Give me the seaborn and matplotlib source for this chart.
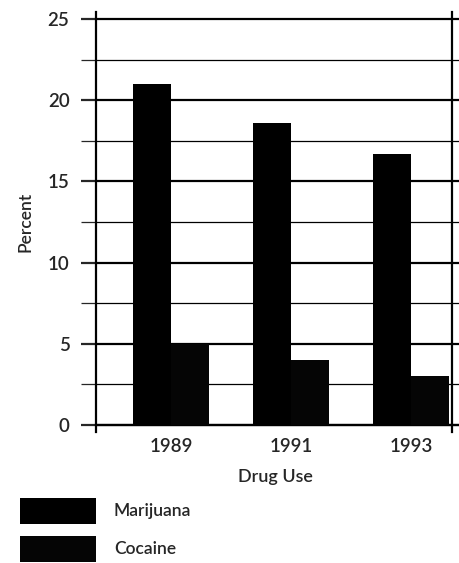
import seaborn as sns
import pandas as pd
import matplotlib.pyplot as plt
from matplotlib.ticker import MultipleLocator

years = ["1989", "1991", "1993"]
marijuana = [21.0, 18.6, 16.7]
cocaine = [5.0, 4.0, 3.0]
drugs = ["Marijuana", "Cocaine"]
yticks = [0, 5, 10, 15, 20, 25]

df = pd.DataFrame({
    "year": years * 2,
    "pct": marijuana + cocaine,
    "drug": [drugs[0]] * len(years) + [drugs[1]] * len(years),
})

sns.set_style("white")
plt.rcParams["font.family"] = ["Lato", "DejaVu Sans"]
plt.rcParams["font.weight"] = "semibold"
plt.rcParams["axes.labelweight"] = "semibold"

fig = plt.figure(figsize=(4.6, 5.63), dpi=100)
ax = fig.add_axes([96 / 460, 131 / 563, 364 / 460, 420 / 563])

sns.barplot(data=df, x="year", y="pct", hue="drug", palette=["#000000", "#050505"],
            width=0.64, gap=0, saturation=1, linewidth=0, ax=ax, zorder=3)

ax.set_xlim(-0.625, 2.408)
ax.set_ylim(-0.43, 25.43)
ax.set_yticks(yticks)
ax.yaxis.set_minor_locator(MultipleLocator(2.5))
ax.set_axisbelow(True)
ax.grid(axis="y", which="major", color="black", linewidth=1.6)
ax.grid(axis="y", which="minor", color="black", linewidth=0.9)
ax.grid(axis="x", visible=False)

ax.tick_params(axis="y", which="major", length=11, width=1.6, labelsize=13.5, pad=8, left=True)
ax.tick_params(axis="y", which="minor", length=11, width=0.9, left=True)
ax.tick_params(axis="x", length=0, labelsize=13.5, pad=9)

for side in ["left", "right", "bottom"]:
    ax.spines[side].set_color("black")
    ax.spines[side].set_linewidth(1.6)
ax.spines["top"].set_visible(False)
ax.spines["bottom"].set_position(("data", 0))
ax.spines["right"].set_position(("axes", 356 / 364))

ax.set_ylabel("Percent", fontsize=12.5, fontweight="semibold")
ax.set_xlabel("Drug Use", fontsize=13, fontweight="semibold")
ax.yaxis.set_label_coords(-0.173, 0.5)
ax.xaxis.set_label_coords(0.492, -0.088)

handles, labels = ax.get_legend_handles_labels()
ax.get_legend().remove()
fig.legend(handles, labels, loc="upper left", bbox_to_anchor=(20 / 460, 65 / 563),
           frameon=False, fontsize=12.5, handlelength=4.4, handleheight=1.9,
           handletextpad=1.0, labelspacing=0.7, borderpad=0, borderaxespad=0)

fig.savefig("out.png", dpi=100)
